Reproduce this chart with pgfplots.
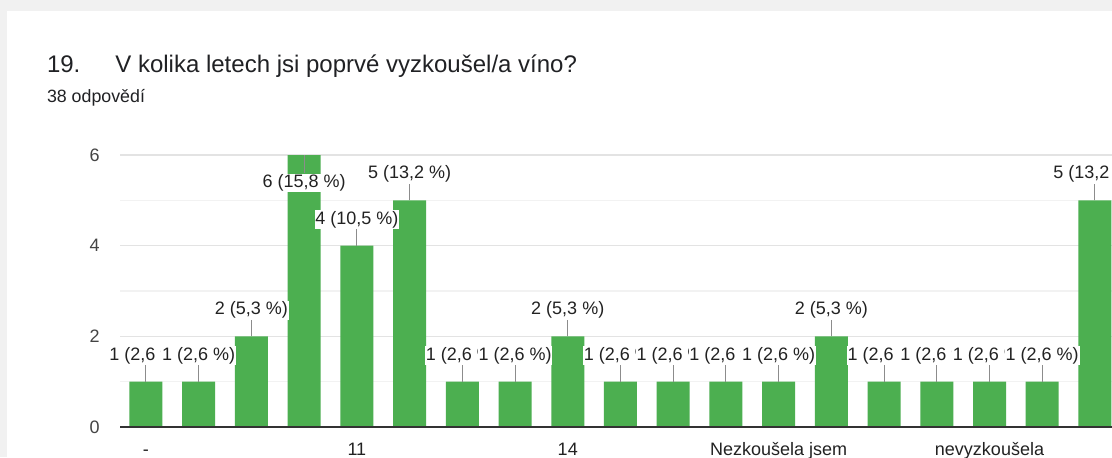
\documentclass[border=0pt]{standalone}
\usepackage{pgfplots}
\pgfplotsset{compat=1.18}
\usepackage{fontspec}
\setmainfont{Liberation Sans}
\definecolor{bargreen}{HTML}{4CAF50}
\definecolor{titlec}{HTML}{202124}
\definecolor{labc}{HTML}{222222}
\definecolor{tickc}{HTML}{444444}
\definecolor{bgc}{HTML}{F1F1F1}
\begin{document}
\begin{tikzpicture}
\path[use as bounding box] (0pt,0pt) rectangle (556pt,228.5pt);
\clip (0pt,0pt) rectangle (556pt,228.5pt);
\fill[bgc] (0pt,0pt) rectangle (556pt,228.5pt);
\fill[white] (3.5pt,0pt) rectangle (556pt,223pt);
\node[anchor=base west, inner sep=0pt, font=\fontsize{12}{15}\selectfont, text=titlec] at (23.3pt,192.5pt) {19.};
\node[anchor=base west, inner sep=0pt, font=\fontsize{12}{15}\selectfont, text=titlec] at (57.5pt,192.5pt) {V kolika letech jsi poprvé vyzkoušel/a víno?};
\node[anchor=base west, inner sep=0pt, font=\fontsize{8.9}{11}\selectfont, text=titlec] at (23.3pt,177.2pt) {38 odpovědí};
\begin{axis}[
  at={(60pt,15pt)}, anchor=south west,
  scale only axis, width=500.65pt, height=136pt,
  xmin=-0.493, xmax=18.5, ymin=0, ymax=6,
  clip=false,
  axis line style={draw=none}, tick style={draw=none},
  ytick={0,2,4,6}, minor ytick={1,3,5},
  ymajorgrids, yminorgrids,
  major grid style={draw=black!11, line width=0.7pt},
  minor grid style={draw=black!5, line width=0.7pt},
  xtick={0,4,8,12,16},
  xticklabels={-,11,14,Nezkoušela jsem,nevyzkoušela},
  xticklabel style={anchor=north, inner sep=0pt, text height=6.5pt, text depth=2pt, yshift=-7.5pt, font=\fontsize{9}{11}\selectfont, text=labc},
  yticklabel style={anchor=east, inner sep=0pt, xshift=-10pt, font=\fontsize{9}{11}\selectfont, text=tickc},
  /pgf/number format/assume math mode=true,
]
\addplot[ybar, bar width=16.5pt, fill=bargreen, draw=none,
  error bars/.cd, y dir=both, y explicit, error mark=none,
  error bar style={draw=black!45, line width=0.5pt, solid}]
coordinates {
(0,1) += (0,0.4) -= (0,0)
(1,1) += (0,0.4) -= (0,0)
(2,2) += (0,0.4) -= (0,0)
(3,6) += (0,0) -= (0,0.4)
(4,4) += (0,0.4) -= (0,0)
(5,5) += (0,0.4) -= (0,0)
(6,1) += (0,0.4) -= (0,0)
(7,1) += (0,0.4) -= (0,0)
(8,2) += (0,0.4) -= (0,0)
(9,1) += (0,0.4) -= (0,0)
(10,1) += (0,0.4) -= (0,0)
(11,1) += (0,0.4) -= (0,0)
(12,1) += (0,0.4) -= (0,0)
(13,2) += (0,0.4) -= (0,0)
(14,1) += (0,0.4) -= (0,0)
(15,1) += (0,0.4) -= (0,0)
(16,1) += (0,0.4) -= (0,0)
(17,1) += (0,0.4) -= (0,0)
(18,5) += (0,0.4) -= (0,0)
};
\addplot[black!80, line width=1pt] coordinates {(-0.493,0) (18.5,0)};
\addplot[draw=none, nodes near coords, point meta=explicit symbolic,
  every node near coord/.append style={anchor=center, fill=white, inner sep=0.4pt, font=\fontsize{9}{11}\selectfont, text=labc}]
coordinates {
(0,1.574) [1 (2,6 \%)]
(1,1.574) [1 (2,6 \%)]
(2,2.574) [2 (5,3 \%)]
(3,5.38) [6 (15,8 \%)]
(4,4.574) [4 (10,5 \%)]
(5,5.574) [5 (13,2 \%)]
(6,1.574) [1 (2,6 \%)]
(7,1.574) [1 (2,6 \%)]
(8,2.574) [2 (5,3 \%)]
(9,1.574) [1 (2,6 \%)]
(10,1.574) [1 (2,6 \%)]
(11,1.574) [1 (2,6 \%)]
(12,1.574) [1 (2,6 \%)]
(13,2.574) [2 (5,3 \%)]
(14,1.574) [1 (2,6 \%)]
(15,1.574) [1 (2,6 \%)]
(16,1.574) [1 (2,6 \%)]
(17,1.574) [1 (2,6 \%)]
(18,5.574) [5 (13,2 \%)]
};
\end{axis}
\end{tikzpicture}
\end{document}
